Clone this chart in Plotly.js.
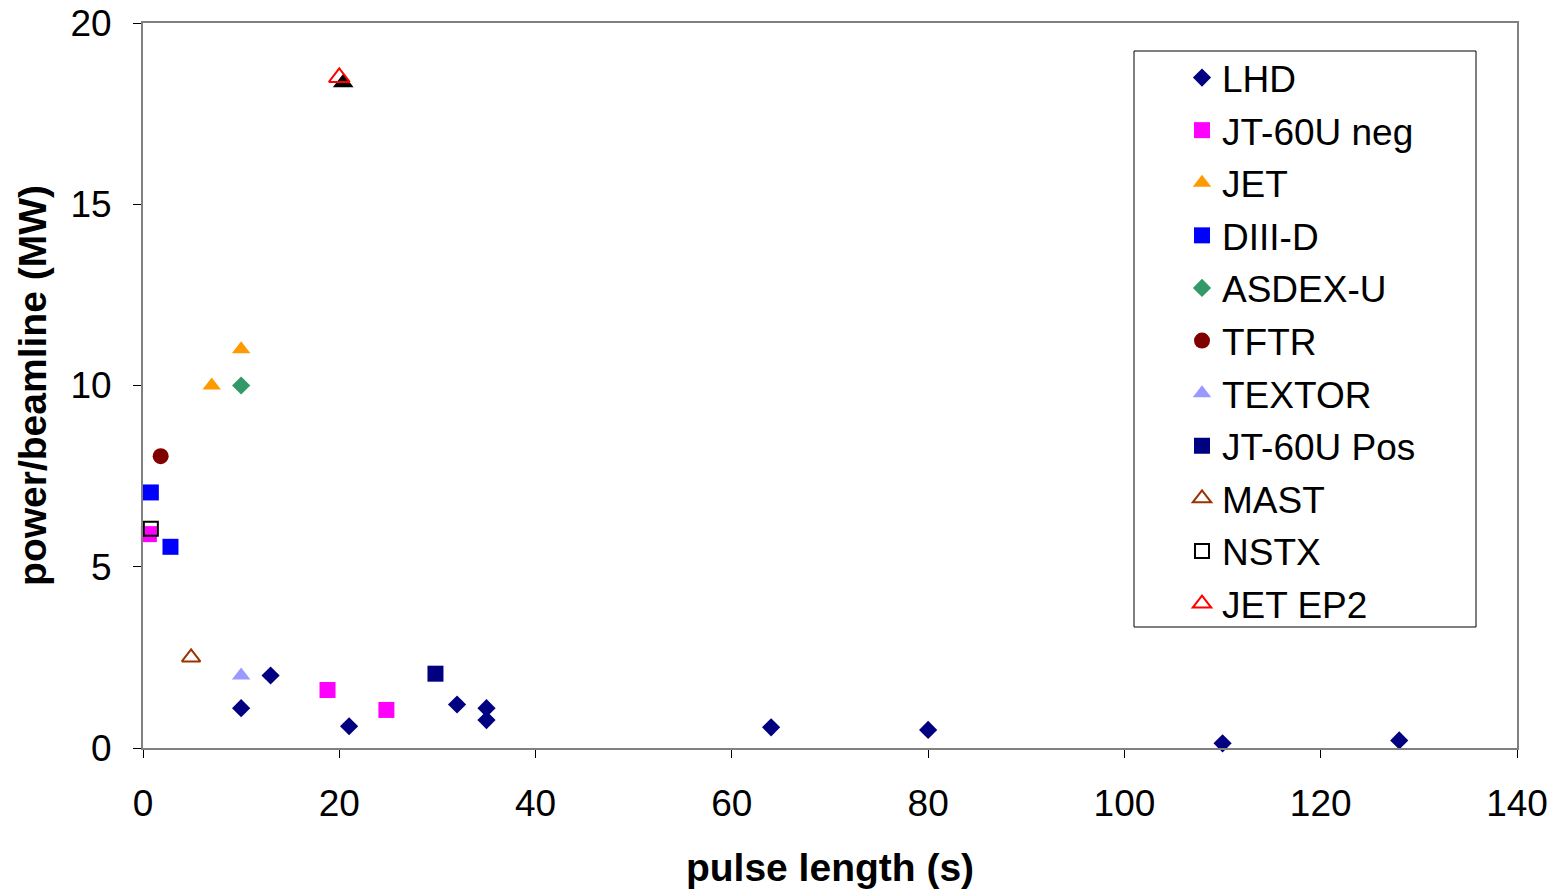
<!DOCTYPE html>
<html>
<head>
<meta charset="utf-8">
<script src="https://cdn.plot.ly/plotly-3.0.1.min.js"></script>
<style>html,body{margin:0;padding:0;background:#fff;}#chart{width:1559px;height:890px;}</style>
</head>
<body>
<div id="chart"></div>
<script>
// ---- data ----
const lhdX = [10, 13, 21, 32, 35, 35, 64, 80, 110, 128];
const lhdY = [1.1, 2.0, 0.6, 1.2, 1.1, 0.77, 0.57, 0.5, 0.13, 0.21];
const jt60NegX = [0.6, 18.8, 24.8];
const jt60NegY = [5.9, 1.6, 1.05];
const jetX = [7, 10];
const jetY = [10, 11];
const diiidX = [0.8, 2.8];
const diiidY = [7.05, 5.55];
const asdexX = [10];
const asdexY = [10];
const tftrX = [1.8];
const tftrY = [8.05];
const textorX = [10];
const textorY = [2];
const jt60PosX = [29.8];
const jt60PosY = [2.05];
const mastX = [4.9];
const mastY = [2.5];
const nstxX = [0.8];
const nstxY = [6.05];
const jetEp2X = [20];
const jetEp2Y = [18.5];
const jetEp2ShadowX = [20.4];
const jetEp2ShadowY = [18.35];
const xTicks = [0, 20, 40, 60, 80, 100, 120, 140];
const yTicks = [0, 5, 10, 15, 20];

function tr(name, x, y, symbol, size, color, lineColor, lineWidth, show) {
  return {
    type: 'scatter', mode: 'markers', name: name, x: x, y: y,
    legendgroup: name, showlegend: show !== false,
    marker: {symbol: symbol, size: size, color: color,
             line: {color: lineColor || color, width: lineWidth || 0}},
    cliponaxis: false
  };
}

const data = [
  tr('shadow', jetEp2ShadowX, jetEp2ShadowY, 'triangle-up', 18, '#000000', '#000000', 0, false),
  tr('LHD', lhdX, lhdY, 'diamond', 14, '#000080'),
  tr('JT-60U neg', jt60NegX, jt60NegY, 'square', 16, '#FF00FF'),
  tr('JET', jetX, jetY, 'triangle-up', 16, '#FF9900'),
  tr('DIII-D', diiidX, diiidY, 'square', 16, '#0000FF'),
  tr('ASDEX-U', asdexX, asdexY, 'diamond', 14, '#339966'),
  tr('TFTR', tftrX, tftrY, 'circle', 16, '#800000'),
  tr('TEXTOR', textorX, textorY, 'triangle-up', 16, '#9999FF'),
  tr('JT-60U Pos', jt60PosX, jt60PosY, 'square', 16, '#000080'),
  tr('MAST', mastX, mastY, 'triangle-up-open', 16, '#993300', '#993300', 2),
  tr('NSTX', nstxX, nstxY, 'square-open', 14, '#000000', '#000000', 2),
  tr('JET EP2', jetEp2X, jetEp2Y, 'triangle-up-open', 18, '#FF0000', '#FF0000', 2)
];

const W = 1559, H = 890, L = 143, R = 42, T = 23, B = 142;
const pw = W - L - R, ph = H - T - B;
function px(x) { return (x - L) / pw; }
function py(y) { return (H - B - y) / ph; }

const layout = {
  width: W, height: H,
  margin: {l: L, r: R, t: T, b: B},
  paper_bgcolor: '#ffffff', plot_bgcolor: '#ffffff',
  font: {family: 'Liberation Sans, Arial, sans-serif', color: '#000000', size: 37},
  showlegend: true,
  legend: {
    x: px(1182), y: py(47), xanchor: 'left', yanchor: 'top',
    bgcolor: 'rgba(0,0,0,0)', borderwidth: 0,
    font: {size: 37, color: '#000000'},
    traceorder: 'grouped', tracegroupgap: 1.5,
    itemwidth: 30
  },
  xaxis: {
    range: [0, 140], tickvals: xTicks, ticktext: xTicks.map(String),
    showgrid: false, zeroline: false, showline: true, linecolor: '#808080', linewidth: 2,
    mirror: true, ticks: 'outside', ticklen: 8, tickcolor: '#000000', tickwidth: 1,
    tickfont: {size: 37}, ticklabelstandoff: 14, fixedrange: true,
    title: {text: '<b>pulse length (s)</b>', font: {size: 39}, standoff: 30}
  },
  yaxis: {
    range: [0, 20], tickvals: yTicks, ticktext: yTicks.map(String),
    showgrid: false, zeroline: false, showline: true, linecolor: '#808080', linewidth: 2,
    mirror: true, ticks: 'outside', ticklen: 8, tickcolor: '#000000', tickwidth: 1,
    tickfont: {size: 37}, ticklabelstandoff: 14, fixedrange: true,
    title: {text: '<b>power/beamline (MW)</b>', font: {size: 39}, standoff: 12}
  },
  shapes: [{
    type: 'rect', xref: 'paper', yref: 'paper',
    x0: px(1134), x1: px(1476), y0: py(627), y1: py(51),
    line: {color: '#000000', width: 1}, fillcolor: 'rgba(0,0,0,0)', layer: 'below'
  }]
};

Plotly.newPlot('chart', data, layout, {staticPlot: true, displayModeBar: false});
</script>
</body>
</html>
